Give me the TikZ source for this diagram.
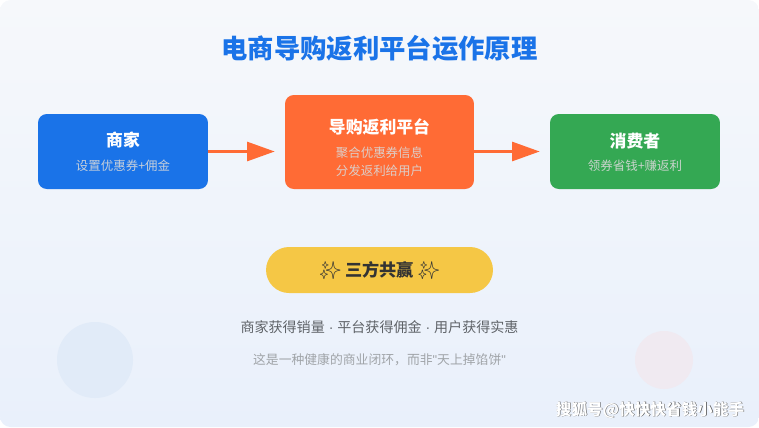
\documentclass[tikz,border=0pt]{standalone}
\usepackage{fontspec}
\setmainfont{Noto Sans CJK SC}
\newfontfamily\emojifont{Noto Emoji}
\newfontfamily\latinfont{Liberation Sans}
\usetikzlibrary{arrows.meta,shadings}

\definecolor{bgTop}{HTML}{F6F8FB}
\definecolor{bgBot}{HTML}{E9F0FB}
\definecolor{shopBlue}{HTML}{1A73E8}
\definecolor{platOrange}{HTML}{FF6B35}
\definecolor{userGreen}{HTML}{34A853}
\definecolor{winYellow}{HTML}{F5C745}
\definecolor{titleBlue}{HTML}{1A73E8}
\definecolor{textGray}{HTML}{5F6368}
\definecolor{lightGray}{HTML}{A0A4A8}
\definecolor{circBlue}{HTML}{E1EBF8}
\definecolor{circPink}{HTML}{F0EAF1}

\newcommand{\sep}{{\latinfont\ · }}

\tikzset{
  card/.style={rounded corners=5pt, text=white, align=center, inner sep=0pt},
  head/.style={font=\fontsize{9.6}{11}\selectfont\bfseries},
  sub/.style={font=\fontsize{7.1}{10.5}\selectfont, text=white!85!black, opacity=.9},
  flow/.style={-{Triangle[length=5.5mm,width=3.8mm]}, draw=platOrange, line width=1.4pt, shorten >=0.2cm},
}

\begin{document}
\begin{tikzpicture}[x=0.02cm, y=-0.02cm]
    % Fond
    \shade[top color=bgTop, bottom color=bgBot, rounded corners=6pt] (0,0) rectangle (759,427);
    \useasboundingbox (0,0) rectangle (759,427);
    \fill[circBlue] (95,360) circle (38);
    \fill[circPink] (664,360) circle (29);

    % Titre
    \node[font=\fontsize{15}{18}\selectfont\bfseries, text=titleBlue] (title) at (379.5,48) {电商导购返利平台运作原理};

    % Les trois acteurs
    \node[card, fill=shopBlue, minimum width=3.4cm, minimum height=1.5cm] (shop) at (123,151.5) {};
    \node[head, text=white] (shopT) at (123,140) {商家};
    \node[sub] (shopS) at (123,166) {设置优惠券+佣金};

    \node[card, fill=platOrange, minimum width=3.78cm, minimum height=1.88cm] (plat) at (379.5,142) {};
    \node[head, text=white] (platT) at (379.5,127) {导购返利平台};
    \node[sub, align=center] (platS) at (379.5,161.5) {聚合优惠券信息\\分发返利给用户};

    \node[card, fill=userGreen, minimum width=3.4cm, minimum height=1.5cm] (user) at (635,151.5) {};
    \node[head, text=white] (userT) at (635,141) {消费者};
    \node[sub] (userS) at (635,166) {领券省钱+赚返利};

    % Flux
    \draw[flow] (shop.east) -- (plat.west |- shop.east);
    \draw[flow] (plat.east |- user.west) -- (user.west);

    % Bilan
    \node[fill=winYellow, rounded corners=0.46cm, minimum width=4.54cm, minimum height=0.92cm,
          font=\fontsize{9.8}{12}\selectfont\bfseries, text=black!80] (win) at (379.5,270)
          {{\emojifont ✨} 三方共赢 {\emojifont ✨}};
    \node[font=\fontsize{8.0}{9}\selectfont, text=textGray] (gain) at (379.5,327)
          {商家获得销量\sep 平台获得佣金\sep 用户获得实惠};
    \node[font=\fontsize{7.3}{9}\selectfont, text=lightGray] (note) at (379.5,360)
          {这是一种健康的商业闭环，而非{\latinfont"}天上掉馅饼{\latinfont"}};

    % Filigrane
    \node[font=\fontsize{8.9}{10}\selectfont\bfseries, text=black!70] at (650.6,410.6) {搜狐号@快快快省钱小能手};
    \node[font=\fontsize{8.9}{10}\selectfont\bfseries, text=white] (mark) at (650,410) {搜狐号@快快快省钱小能手};
\end{tikzpicture}
\end{document}
